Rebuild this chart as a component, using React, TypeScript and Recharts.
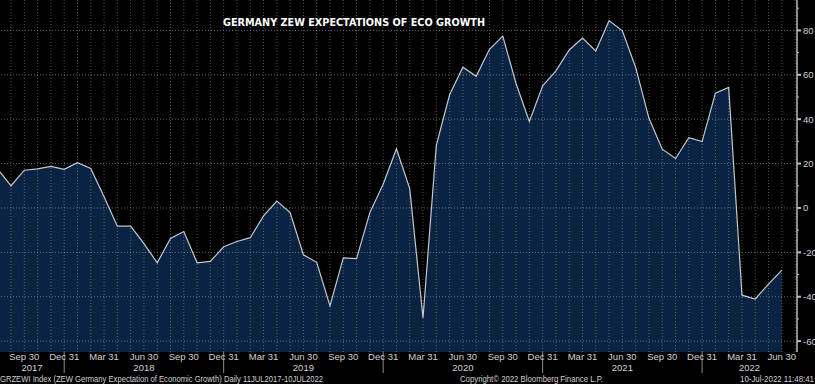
import { AreaChart, Area, XAxis, YAxis, ReferenceLine } from 'recharts'

// ZEW Germany expectations of economic growth, monthly Jul 2017 .. Jun 2022
const months = [
  'Jul 2017', 'Aug 2017', 'Sep 2017', 'Oct 2017', 'Nov 2017', 'Dec 2017',
  'Jan 2018', 'Feb 2018', 'Mar 2018', 'Apr 2018', 'May 2018', 'Jun 2018',
  'Jul 2018', 'Aug 2018', 'Sep 2018', 'Oct 2018', 'Nov 2018', 'Dec 2018',
  'Jan 2019', 'Feb 2019', 'Mar 2019', 'Apr 2019', 'May 2019', 'Jun 2019',
  'Jul 2019', 'Aug 2019', 'Sep 2019', 'Oct 2019', 'Nov 2019', 'Dec 2019',
  'Jan 2020', 'Feb 2020', 'Mar 2020', 'Apr 2020', 'May 2020', 'Jun 2020',
  'Jul 2020', 'Aug 2020', 'Sep 2020', 'Oct 2020', 'Nov 2020', 'Dec 2020',
  'Jan 2021', 'Feb 2021', 'Mar 2021', 'Apr 2021', 'May 2021', 'Jun 2021',
  'Jul 2021', 'Aug 2021', 'Sep 2021', 'Oct 2021', 'Nov 2021', 'Dec 2021',
  'Jan 2022', 'Feb 2022', 'Mar 2022', 'Apr 2022', 'May 2022', 'Jun 2022',
]

const zew = [
  17.5, 10.0, 17.0, 17.6, 18.7, 17.4,
  20.4, 17.8, 5.1, -8.2, -8.2, -16.1, -24.7, -13.7, -10.6, -24.7, -24.1, -17.5,
  -15.1, -13.4, -3.6, 3.1, -2.1, -21.1, -24.5, -44.1, -22.5, -22.8, -2.1, 10.7,
  26.7, 8.7, -49.5, 28.2, 51.0, 63.4, 59.3, 71.5, 77.4, 56.1, 39.0, 55.0,
  61.8, 71.2, 76.6, 70.7, 84.4, 79.8, 63.3, 40.4, 26.5, 22.3, 31.7, 29.9,
  51.7, 54.3, -39.3, -41.0, -34.3, -28.0,
]

const quarterLabels: Record<string, string> = {
  Mar: 'Mar 31',
  Jun: 'Jun 30',
  Sep: 'Sep 30',
  Dec: 'Dec 31',
}
const years = ['2017', '2018', '2019', '2020', '2021', '2022']
const yTicks = [-60, -50, -40, -30, -20, -10, 0, 10, 20, 30, 40, 50, 60, 70, 80, 90]
const yLabeled = [-60, -40, -20, 0, 20, 40, 60, 80]

const X_DOMAIN: [number, number] = [0.17, 60.14]
const Y_DOMAIN: [number, number] = [-64.9, 93.7]

const data = months.map((m, i) => ({ i, month: m, v: zew[i] }))

const quarterTicks = months
  .map((m, i) => (quarterLabels[m.slice(0, 3)] ? i : -1))
  .filter((i) => i >= 0)
const yearEnds = months
  .map((m, i) => (m.startsWith('Dec') ? i : -1))
  .filter((i) => i >= 0)
const bounds = [X_DOMAIN[0], ...yearEnds, X_DOMAIN[1]]
const yearTicks = years.map((_, k) => (bounds[k] + bounds[k + 1]) / 2)
const gridX = [...months.map((_, i) => i), months.length]

const FONT = '"Liberation Sans Narrow", "Liberation Sans", Arial, sans-serif'
const TEXT = '#d2d2d2'

function MonthTick(props: any) {
  const { x, y, payload } = props
  const m = months[payload.value]
  const label = quarterLabels[m.slice(0, 3)]
  return (
    <g>
      {m.startsWith('Dec') && (
        <line x1={x} x2={x} y1={y} y2={y + 21} stroke="#8a8a8a" strokeWidth={1} />
      )}
      <text x={x} y={y + 8} textAnchor="middle" fill={TEXT} fontSize={9.5} fontFamily={FONT}>
        {label}
      </text>
    </g>
  )
}

function YearTick(props: any) {
  const { x, y, index } = props
  return (
    <text x={x} y={y + 8} textAnchor="middle" fill={TEXT} fontSize={9.5} fontFamily={FONT}>
      {years[index]}
    </text>
  )
}

function ValueTick(props: any) {
  const { x, y, payload } = props
  const major = yLabeled.includes(payload.value)
  return (
    <g>
      <line x1={x} x2={x + (major ? 4 : 2)} y1={y} y2={y} stroke="#bdbdbd" strokeWidth={major ? 2 : 1} />
      {major && (
        <text x={x + 6} y={y + 3.5} textAnchor="start" fill={TEXT} fontSize={9.5} fontFamily={FONT}>
          {payload.value}
        </text>
      )}
    </g>
  )
}

export default function App() {
  return (
    <div style={{ position: 'absolute', left: 0, top: 0, width: 815, height: 384, background: '#000' }}>
      <AreaChart
        width={815}
        height={384}
        data={data}
        margin={{ top: 0, right: 0, bottom: 11, left: 0 }}
      >
        <XAxis
          dataKey="i"
          type="number"
          domain={X_DOMAIN}
          allowDataOverflow
          ticks={quarterTicks}
          interval={0}
          tick={<MonthTick />}
          tickLine={false}
          axisLine={false}
          tickSize={0}
          tickMargin={0}
          height={11}
        />
        <XAxis
          xAxisId="yr"
          dataKey="i"
          type="number"
          domain={X_DOMAIN}
          allowDataOverflow
          ticks={yearTicks}
          interval={0}
          tick={<YearTick />}
          tickLine={false}
          axisLine={false}
          tickSize={0}
          tickMargin={0}
          height={10}
        />
        <YAxis
          orientation="right"
          width={18}
          domain={Y_DOMAIN}
          allowDataOverflow
          ticks={yTicks}
          interval={0}
          tick={<ValueTick />}
          tickLine={false}
          tickSize={0}
          tickMargin={0}
          axisLine={{ stroke: '#8c8c8c', strokeWidth: 2 }}
        />
        <Area
          type="linear"
          dataKey="v"
          baseValue={Y_DOMAIN[0]}
          stroke="#c4c8cc"
          strokeWidth={1.2}
          fill="#0a2342"
          fillOpacity={1}
          isAnimationActive={false}
          dot={false}
          activeDot={false}
        />
        {gridX.map((i) => (
          <ReferenceLine key={'v' + i} x={i} stroke="#ffffff" strokeOpacity={0.3} strokeDasharray="1 2" ifOverflow="hidden" />
        ))}
        {yLabeled.map((t) => (
          <ReferenceLine key={'h' + t} y={t} stroke="#ffffff" strokeOpacity={0.38} strokeDasharray="1 2" />
        ))}
      </AreaChart>
      <svg width={815} height={384} style={{ position: 'absolute', left: 0, top: 0, pointerEvents: 'none' }}>
        <text
          x={223}
          y={26}
          fill="#ffffff"
          fontSize={11}
          fontWeight="bold"
          fontFamily='"DejaVu Sans", sans-serif'
          textLength={262}
          lengthAdjust="spacingAndGlyphs"
        >
          GERMANY ZEW EXPECTATIONS OF ECO GROWTH
        </text>
        <text x={0} y={382} fill={TEXT} fontSize={9.5} fontFamily={FONT} textLength={323} lengthAdjust="spacingAndGlyphs">
          GRZEWI Index (ZEW Germany Expectation of Economic Growth)  Daily 11JUL2017-10JUL2022
        </text>
        <text x={460} y={382} fill={TEXT} fontSize={9.5} fontFamily={FONT} textLength={143} lengthAdjust="spacingAndGlyphs">
          Copyright© 2022 Bloomberg Finance L.P.
        </text>
        <text x={740} y={382} fill={TEXT} fontSize={9.5} fontFamily={FONT} textLength={74} lengthAdjust="spacingAndGlyphs">
          10-Jul-2022 11:48:41
        </text>
      </svg>
    </div>
  )
}
